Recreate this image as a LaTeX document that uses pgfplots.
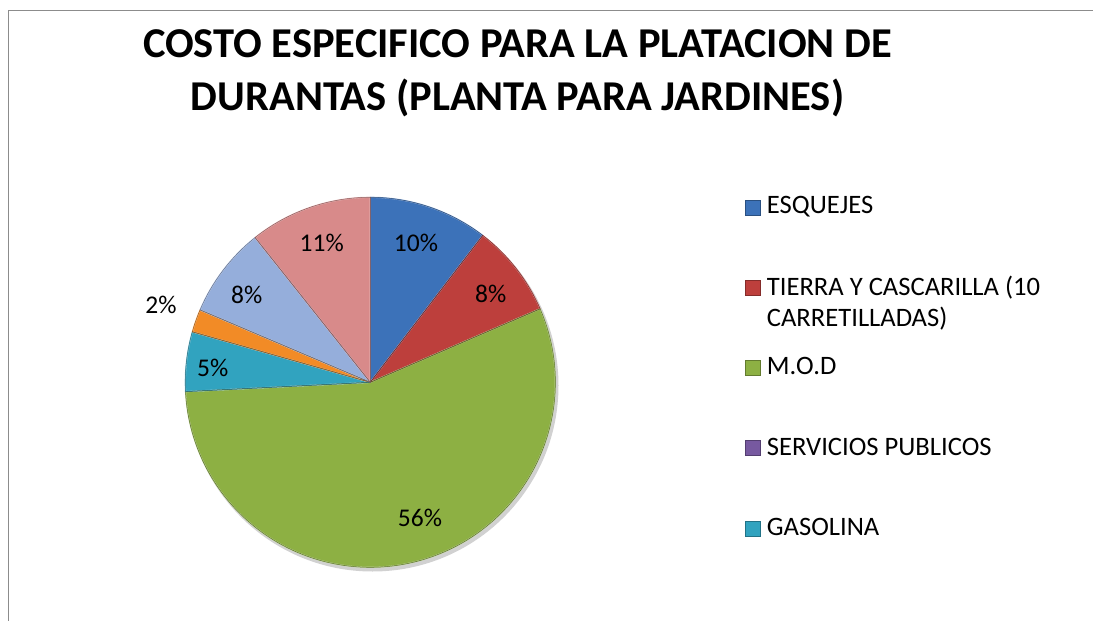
\documentclass[border=0pt]{standalone}
\usepackage{pgfplots}
\pgfplotsset{compat=1.18}
\usepackage{pgfplotstable}
\usepackage{fontspec}
\setmainfont{Carlito}

\definecolor{c0}{HTML}{3C72B9}
\definecolor{c1}{HTML}{BD3F3C}
\definecolor{c2}{HTML}{8DB043}
\definecolor{c3}{HTML}{7759A0}
\definecolor{c4}{HTML}{31A3BF}
\definecolor{c5}{HTML}{F28B26}
\definecolor{c6}{HTML}{95AEDB}
\definecolor{c7}{HTML}{D88A8A}

% slice values (percent), clockwise from 12 o'clock
\pgfplotstableread[col sep=comma]{
idx,value
0,10.4
1,8.1
2,55.7
3,0.0
4,5.2
5,2.0
6,7.9
7,10.7
}\piedata

% data labels: position (pixel) and shown text
\pgfplotstableread[col sep=comma]{
lx,ly,lab
416,242.7,10
490.7,294.3,8
420,518.3,56
212.7,368.3,5
161,305,2
246.7,295,8
321.7,242.7,11
}\labdata

\xdef\cumangle{90}
\pgfplotstableforeachcolumnelement{value}\of\piedata\as\v{%
  \pgfmathsetmacro\endang{\cumangle-3.6*\v}%
  \expandafter\xdef\csname sa\pgfplotstablerow\endcsname{\cumangle}%
  \expandafter\xdef\csname ea\pgfplotstablerow\endcsname{\endang}%
  \xdef\cumangle{\endang}%
}

\begin{document}
\begin{tikzpicture}
\useasboundingbox (0,0) rectangle (1093pt,621pt);
\begin{axis}[
  at={(0,0)}, anchor=south west,
  scale only axis, width=1093pt, height=621pt,
  xmin=0, xmax=1093, ymin=0, ymax=621, y dir=reverse,
  hide axis, clip=false,
]
% frame (cut at right and bottom)
\draw[color=black!45, line width=1.5pt] (axis cs:8.3,640) -- (axis cs:8.3,10.7) -- (axis cs:1110,10.7);

% title
\node[anchor=base, font=\fontsize{42.5}{50}\selectfont\bfseries] at (axis cs:517.5,57.5) {COSTO ESPECIFICO PARA LA PLATACION DE};
\node[anchor=base, font=\fontsize{42.5}{50}\selectfont\bfseries] at (axis cs:517.5,110.5) {DURANTAS (PLANTA PARA JARDINES)};

% shadow
\fill[black, opacity=0.18] (axis cs:372.5,385.5) circle[radius=186pt];

% pie slices
\pgfplotsinvokeforeach{0,1,2,4,5,6,7}{
  \fill[c#1, draw=c#1!55!white, line width=1.2pt, line join=round]
    (axis cs:370.3,382.3) -- ++(\csname sa#1\endcsname:185pt)
    arc[start angle=\csname sa#1\endcsname, end angle=\csname ea#1\endcsname, radius=185pt] -- cycle;
}
\pgfplotsinvokeforeach{0,1,2,4,5,6,7}{
  \draw[c#1!65!black, line width=0.5pt, line join=round]
    (axis cs:370.3,382.3) -- ++(\csname sa#1\endcsname:185pt)
    arc[start angle=\csname sa#1\endcsname, end angle=\csname ea#1\endcsname, radius=185pt] -- cycle;
}

% data labels
\addplot[only marks, mark=none, point meta=explicit symbolic,
  nodes near coords={\pgfplotspointmeta\%}, nodes near coords align=center,
  every node near coord/.append style={font=\fontsize{25.5}{30}\selectfont, text=black, inner sep=0pt}]
  table[col sep=comma, x=lx, y=ly, meta=lab] {\labdata};

% legend
\pgfplotsinvokeforeach{0,1,2,3,4}{
  \fill[c#1, draw=c#1!70!black, line width=0.5pt] (axis cs:745,{207.3+80.25*#1-7.5}) rectangle (axis cs:760.5,{207.3+80.25*#1+7.5});
}
\tikzset{legtext/.style={anchor=base west, inner sep=0pt, font=\fontsize{26.6}{31}\selectfont}}
\node[legtext] at (axis cs:766.7,213.3) {ESQUEJES};
\node[legtext] at (axis cs:766.7,295) {TIERRA Y CASCARILLA (10};
\node[legtext] at (axis cs:766.7,326.7) {CARRETILLADAS)};
\node[legtext] at (axis cs:766.7,374) {M.O.D};
\node[legtext] at (axis cs:766.7,455) {SERVICIOS PUBLICOS};
\node[legtext] at (axis cs:766.7,535) {GASOLINA};
\end{axis}
\end{tikzpicture}
\end{document}
